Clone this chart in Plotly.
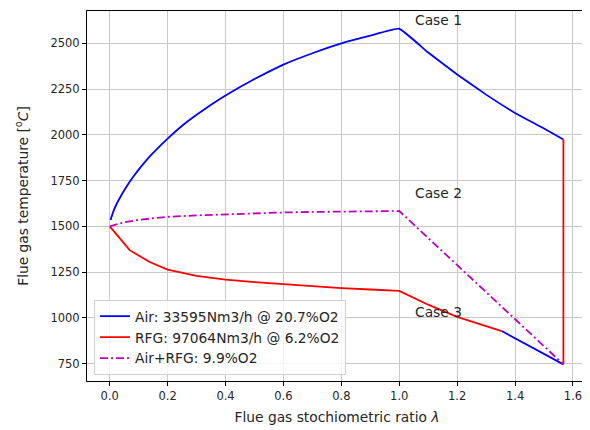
import plotly.graph_objects as go

# Air (blue) curve: rich side up to lambda=1, then lean side, plus lower segment
air_x = [0.003, 0.01, 0.02, 0.04, 0.06, 0.08, 0.1, 0.14, 0.2, 0.25, 0.3, 0.35, 0.4, 0.45,
         0.5, 0.6, 0.7, 0.8, 0.9, 1.0,
         1.1, 1.2, 1.3, 1.4, 1.5, 1.567, None, 1.354, 1.567]
air_y = [1535, 1570, 1610, 1670, 1722, 1768, 1810, 1885, 1980, 2050, 2110, 2165, 2215, 2262,
         2305, 2384, 2446, 2500, 2542, 2580,
         2450, 2330, 2220, 2120, 2035, 1975, None, 928, 746]

# RFG (red) curve
rfg_x = [0.0, 0.069, 0.138, 0.2, 0.3, 0.4, 0.5, 0.6, 0.7, 0.8, 0.9, 1.0, 1.1, 1.2, 1.354,
         None, 1.567, 1.567]
rfg_y = [1500, 1370, 1305, 1264, 1230, 1209, 1195, 1184, 1172, 1163, 1155, 1147, 1072, 1005, 928,
         None, 746, 1975]

# Air+RFG (magenta) curve
mix_x = [0.0, 0.05, 0.1, 0.2, 0.3, 0.4, 0.5, 0.6, 0.7, 0.8, 0.9, 1.0, 1.567]
mix_y = [1500, 1522, 1536, 1552, 1560, 1566, 1571, 1576, 1579, 1581, 1582, 1584, 746]

case_labels = ["Case 1", "Case 2", "Case 3"]
case_x = [1.047, 1.047, 1.047]
case_y = [2627, 1680, 1032]

x_ticks = [0.0, 0.2, 0.4, 0.6, 0.8, 1.0, 1.2, 1.4, 1.6]
y_ticks = [750, 1000, 1250, 1500, 1750, 2000, 2250, 2500]

FONT = "DejaVu Sans"
fs_tick = 11.5
fs_lab = 13.8
TXT = "#262626"

fig = go.Figure()
fig.add_trace(go.Scatter(x=air_x, y=air_y, mode="lines", name="Air: 33595Nm3/h @ 20.7%O2",
                         line=dict(color="#0000ff", width=1.8, shape="spline", smoothing=0.3)))
fig.add_trace(go.Scatter(x=rfg_x, y=rfg_y, mode="lines", name="RFG: 97064Nm3/h @ 6.2%O2",
                         line=dict(color="#ff0000", width=1.8)))
fig.add_trace(go.Scatter(x=mix_x, y=mix_y, mode="lines", name="Air+RFG: 9.9%O2",
                         line=dict(color="#bf00bf", width=1.8, dash="8px,3px,2px,3px")))

for t, xx, yy in zip(case_labels, case_x, case_y):
    fig.add_annotation(x=xx, y=yy, text=t, showarrow=False, xanchor="left", yanchor="middle",
                       font=dict(family=FONT, size=fs_lab, color=TXT))

axis_common = dict(showline=True, mirror=True, linecolor="black", linewidth=1,
                   showgrid=True, gridcolor="#c8c8c8", gridwidth=1,
                   ticks="outside", ticklen=4, tickcolor="black", tickwidth=1,
                   tickfont=dict(family=FONT, size=fs_tick, color=TXT), zeroline=False)

fig.update_xaxes(range=[-0.0785, 1.6485], tickvals=x_ticks,
                 ticktext=[f"{v:.1f}" for v in x_ticks],
                 title=dict(text="Flue gas stochiometric ratio <i>λ</i>",
                            font=dict(family=FONT, size=fs_lab, color=TXT), standoff=10),
                 **axis_common)
fig.update_yaxes(range=[655, 2677], tickvals=y_ticks,
                 title=dict(text="Flue gas temperature [<sup>o</sup><i>C</i>]",
                            font=dict(family=FONT, size=fs_lab, color=TXT), standoff=18),
                 **axis_common)

# The page body has an 8px margin, so the figure is 8px smaller and margins shifted
fig.update_layout(
    width=582, height=422,
    margin=dict(l=79, r=3, t=3, b=49, autoexpand=False),
    plot_bgcolor="white", paper_bgcolor="white",
    font=dict(family=FONT, size=fs_lab, color=TXT),
    legend=dict(x=0.014, y=0.017, xanchor="left", yanchor="bottom",
                bgcolor="rgba(255,255,255,0.8)", bordercolor="#d0d0d0", borderwidth=1,
                font=dict(family=FONT, size=fs_lab, color=TXT),
                tracegroupgap=0, itemwidth=30),
    showlegend=True,
)

fig.write_html("out.html")
